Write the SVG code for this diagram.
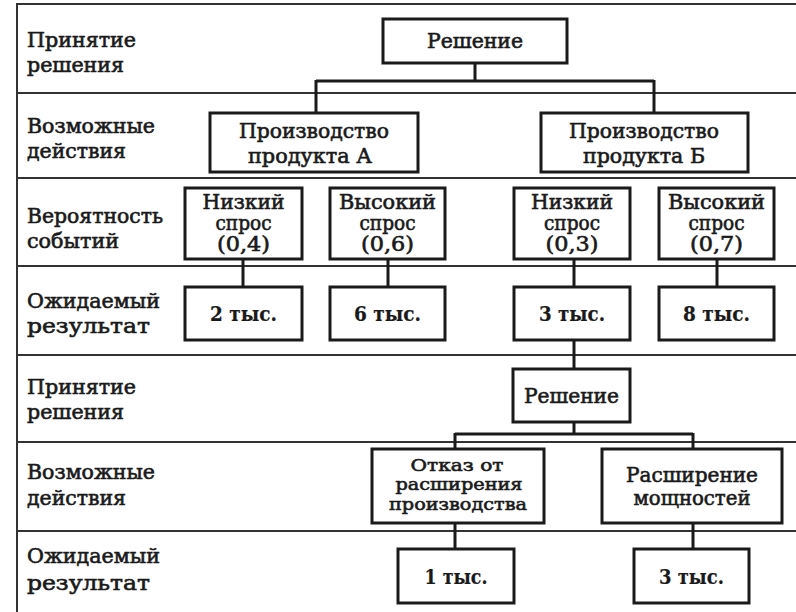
<svg xmlns="http://www.w3.org/2000/svg" width="796" height="612" viewBox="0 0 796 612">
<style>
.bg{fill:#fff}
.grid{stroke:#333;stroke-width:2;fill:none}
.box{fill:#fff;stroke:#1a1a1a;stroke-width:3}
.con{stroke:#1a1a1a;stroke-width:3;fill:none}
text{font-family:"DejaVu Serif","Liberation Serif",serif;font-weight:normal;fill:#1a1a1a;stroke:#1a1a1a;stroke-width:0.6px;font-size:19.5px}
.nt{text-anchor:middle}
.s{font-size:17px}
.b{font-weight:bold;stroke-width:0.2px}
</style>
<rect class="bg" x="0" y="0" width="796" height="612"/>
<g id="grid">
<line class="grid" x1="17" y1="3" x2="17" y2="612"/>
<line class="grid" x1="17" y1="4" x2="796" y2="4"/>
<line class="grid" x1="17" y1="93" x2="796" y2="93"/>
<line class="grid" x1="17" y1="178" x2="796" y2="178"/>
<line class="grid" x1="17" y1="266" x2="796" y2="266"/>
<line class="grid" x1="17" y1="355" x2="796" y2="355"/>
<line class="grid" x1="17" y1="442" x2="796" y2="442"/>
<line class="grid" x1="17" y1="531" x2="796" y2="531"/>
</g>
<g id="labels">
<text x="27" y="47" textLength="109" lengthAdjust="spacingAndGlyphs">Принятие</text>
<text x="27" y="72" textLength="97" lengthAdjust="spacingAndGlyphs">решения</text>
<text x="27" y="133" textLength="128" lengthAdjust="spacingAndGlyphs">Возможные</text>
<text x="27" y="158" textLength="99" lengthAdjust="spacingAndGlyphs">действия</text>
<text x="27" y="223" textLength="136" lengthAdjust="spacingAndGlyphs">Вероятность</text>
<text x="27" y="248" textLength="92" lengthAdjust="spacingAndGlyphs">событий</text>
<text x="27" y="308" textLength="133" lengthAdjust="spacingAndGlyphs">Ожидаемый</text>
<text x="27" y="333" textLength="123" lengthAdjust="spacingAndGlyphs">результат</text>
<text x="27" y="394" textLength="109" lengthAdjust="spacingAndGlyphs">Принятие</text>
<text x="27" y="419" textLength="97" lengthAdjust="spacingAndGlyphs">решения</text>
<text x="27" y="479" textLength="128" lengthAdjust="spacingAndGlyphs">Возможные</text>
<text x="27" y="505" textLength="99" lengthAdjust="spacingAndGlyphs">действия</text>
<text x="27" y="563" textLength="133" lengthAdjust="spacingAndGlyphs">Ожидаемый</text>
<text x="27" y="590" textLength="123" lengthAdjust="spacingAndGlyphs">результат</text>
</g>
<g id="connectors">
<path class="con" d="M475 63V81M316 81H654M316 80V113M654 80V113"/>
<path class="con" d="M243 259V287M388 259V287M574 259V287M717 259V287"/>
<path class="con" d="M574 340V369"/>
<path class="con" d="M574 422V434M455 434H693M455 433V449M693 433V449"/>
<path class="con" d="M455 523V549M693 523V549"/>
</g>
<g id="n-reshenie1"><rect class="box" x="383" y="19" width="184" height="44"/><text class="nt" x="475" y="48" textLength="96" lengthAdjust="spacingAndGlyphs">Решение</text></g>
<g id="n-prodA"><rect class="box" x="210" y="113" width="208" height="59"/><text class="nt" x="314" y="138" textLength="150" lengthAdjust="spacingAndGlyphs">Производство</text><text class="nt" x="310" y="163" textLength="124" lengthAdjust="spacingAndGlyphs">продукта А</text></g>
<g id="n-prodB"><rect class="box" x="541" y="113" width="207" height="59"/><text class="nt" x="644" y="138" textLength="150" lengthAdjust="spacingAndGlyphs">Производство</text><text class="nt" x="644" y="163" textLength="122" lengthAdjust="spacingAndGlyphs">продукта Б</text></g>
<g id="n-low1"><rect class="box" x="185" y="188" width="117" height="71"/><text class="nt" x="243.5" y="209" textLength="82" lengthAdjust="spacingAndGlyphs">Низкий</text><text class="nt" x="243.5" y="230" textLength="56" lengthAdjust="spacingAndGlyphs">спрос</text><text class="nt" x="243.5" y="251" textLength="53" lengthAdjust="spacingAndGlyphs">(0,4)</text></g>
<g id="n-high1"><rect class="box" x="330" y="188" width="115" height="71"/><text class="nt" x="387.5" y="209" textLength="97" lengthAdjust="spacingAndGlyphs">Высокий</text><text class="nt" x="387.5" y="230" textLength="56" lengthAdjust="spacingAndGlyphs">спрос</text><text class="nt" x="387.5" y="251" textLength="53" lengthAdjust="spacingAndGlyphs">(0,6)</text></g>
<g id="n-low2"><rect class="box" x="514" y="188" width="116" height="71"/><text class="nt" x="572" y="209" textLength="82" lengthAdjust="spacingAndGlyphs">Низкий</text><text class="nt" x="572" y="230" textLength="56" lengthAdjust="spacingAndGlyphs">спрос</text><text class="nt" x="572" y="251" textLength="53" lengthAdjust="spacingAndGlyphs">(0,3)</text></g>
<g id="n-high2"><rect class="box" x="659" y="188" width="115" height="71"/><text class="nt" x="716.5" y="209" textLength="97" lengthAdjust="spacingAndGlyphs">Высокий</text><text class="nt" x="716.5" y="230" textLength="56" lengthAdjust="spacingAndGlyphs">спрос</text><text class="nt" x="716.5" y="251" textLength="53" lengthAdjust="spacingAndGlyphs">(0,7)</text></g>
<g id="n-r2"><rect class="box" x="185" y="287" width="117" height="53"/><text class="nt b" x="243.5" y="321" textLength="67" lengthAdjust="spacingAndGlyphs">2 тыс.</text></g>
<g id="n-r6"><rect class="box" x="330" y="287" width="115" height="53"/><text class="nt b" x="387.5" y="321" textLength="67" lengthAdjust="spacingAndGlyphs">6 тыс.</text></g>
<g id="n-r3"><rect class="box" x="514" y="287" width="116" height="53"/><text class="nt b" x="572" y="321" textLength="66" lengthAdjust="spacingAndGlyphs">3 тыс.</text></g>
<g id="n-r8"><rect class="box" x="659" y="287" width="115" height="53"/><text class="nt b" x="716.5" y="321" textLength="67" lengthAdjust="spacingAndGlyphs">8 тыс.</text></g>
<g id="n-reshenie2"><rect class="box" x="513" y="369" width="117" height="53"/><text class="nt" x="571.5" y="403" textLength="95" lengthAdjust="spacingAndGlyphs">Решение</text></g>
<g id="n-otkaz"><rect class="box" x="372" y="449" width="172" height="74"/><text class="nt s" x="457" y="470.5" textLength="93" lengthAdjust="spacingAndGlyphs">Отказ от</text><text class="nt s" x="459" y="490" textLength="127" lengthAdjust="spacingAndGlyphs">расширения</text><text class="nt s" x="458" y="509.5" textLength="138" lengthAdjust="spacingAndGlyphs">производства</text></g>
<g id="n-rassh"><rect class="box" x="602" y="449" width="180" height="74"/><text class="nt" x="692" y="482" textLength="132" lengthAdjust="spacingAndGlyphs">Расширение</text><text class="nt" x="692" y="505" textLength="117" lengthAdjust="spacingAndGlyphs">мощностей</text></g>
<g id="n-r1b"><rect class="box" x="398" y="549" width="116" height="54"/><text class="nt b" x="456" y="584" textLength="63" lengthAdjust="spacingAndGlyphs">1 тыс.</text></g>
<g id="n-r3b"><rect class="box" x="634" y="549" width="115" height="54"/><text class="nt b" x="691.5" y="584" textLength="65" lengthAdjust="spacingAndGlyphs">3 тыс.</text></g>
</svg>
